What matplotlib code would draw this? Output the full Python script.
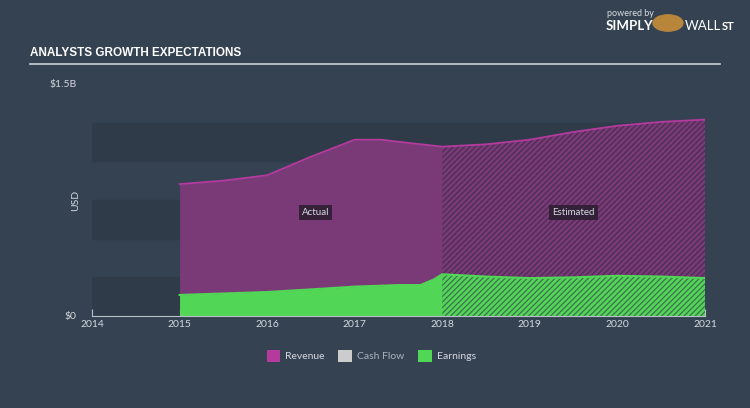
import matplotlib
matplotlib.use("Agg")
import matplotlib.pyplot as plt
from matplotlib.patches import Patch

# Revenue / earnings in $B
rev_act_x = [2015, 2015.5, 2016, 2016.5, 2017, 2017.3, 2017.6, 2018]
rev_act_y = [0.853, 0.875, 0.91, 1.03, 1.14, 1.14, 1.12, 1.095]
rev_est_x = [2018, 2018.5, 2019, 2019.5, 2020, 2020.5, 2021]
rev_est_y = [1.095, 1.11, 1.14, 1.19, 1.23, 1.255, 1.27]

earn_act_x = [2015, 2016, 2016.5, 2017, 2017.5, 2017.75, 2017.9, 2018]
earn_act_y = [0.136, 0.155, 0.172, 0.19, 0.2, 0.2, 0.235, 0.27]
earn_est_x = [2018, 2018.5, 2019, 2019.5, 2020, 2020.5, 2021]
earn_est_y = [0.27, 0.255, 0.245, 0.25, 0.26, 0.255, 0.245]

years = [2014, 2015, 2016, 2017, 2018, 2019, 2020, 2021]
bands = [(0, 0.25), (0.5, 0.75), (1.0, 1.25)]
legend_names = ["Revenue", "Cash Flow", "Earnings"]

BG = "#344252"
BAND = "#2f3b49"
REV_FILL = "#7a3a78"
REV_LINE = "#b43a9e"
EARN = "#52d656"
TXT = "#d4d9df"

plt.rcParams['font.family'] = ['Lato', 'DejaVu Sans']
plt.rcParams['hatch.linewidth'] = 0.9

fig = plt.figure(figsize=(7.5, 4.08), dpi=100, facecolor=BG)
ax = fig.add_axes([92/750, 92/408, 613/750, 232/408])
ax.set_facecolor(BG)
ax.set_xlim(2014, 2021)
ax.set_ylim(0, 1.5)

for lo, hi in bands:
    ax.axhspan(lo, hi, color=BAND, zorder=0)

# actual
ax.fill_between(rev_act_x, 0, rev_act_y, color=REV_FILL, lw=0, zorder=1)
ax.fill_between(earn_act_x, 0, earn_act_y, color=EARN, lw=0, zorder=2)
# estimated, hatched
ax.fill_between(rev_est_x, 0, rev_est_y, facecolor=REV_FILL, edgecolor="#4a2d52",
                hatch="//////", lw=0, zorder=1)
ax.fill_between(earn_est_x, 0, earn_est_y, facecolor=EARN, edgecolor="#3f7052",
                hatch="//////", lw=0, zorder=2)

ax.plot(rev_act_x + rev_est_x[1:], rev_act_y + rev_est_y[1:], color=REV_LINE, lw=1.3, zorder=3)
ax.plot(earn_act_x + earn_est_x[1:], earn_act_y + earn_est_y[1:], color=EARN, lw=1.5, zorder=3)

box = dict(boxstyle="square,pad=0.3", facecolor="#2b1d30", edgecolor="none", alpha=0.85)
ax.text(2016.55, 0.67, "Actual", color=TXT, fontsize=7, ha="center", va="center", bbox=box, zorder=5)
ax.text(2019.5, 0.67, "Estimated", color=TXT, fontsize=7, ha="center", va="center", bbox=box, zorder=5)

for s in ["top", "right", "left"]:
    ax.spines[s].set_visible(False)
ax.spines["bottom"].set_color("#b8c0c8")
ax.spines["bottom"].set_linewidth(0.8)
ax.set_xticks(years)
ax.set_xticklabels([str(y) for y in years])
ax.tick_params(axis="x", direction="in", length=5, color="#b8c0c8", labelcolor=TXT,
               labelsize=7.5, pad=3)
ax.set_yticks([0, 1.5])
ax.set_yticklabels(["$0", "$1.5B"])
ax.tick_params(axis="y", length=0, labelcolor=TXT, labelsize=7.5, pad=11)
ax.set_ylabel("USD", color=TXT, fontsize=7.5)
ax.yaxis.set_label_coords(-0.02, 0.5)

# header
fig.text(30/750, 1 - 53/408, "ANALYSTS GROWTH EXPECTATIONS", color="white", fontsize=8.5,
         fontweight="bold", family=['Liberation Sans Narrow', 'Liberation Sans', 'DejaVu Sans'],
         va="center")
fig.add_artist(plt.Line2D([30/750, 720/750], [1 - 64/408] * 2, color="#c9d0d8", lw=1.2))
fig.text(607/750, 1 - 14/408, "powered by", color="#d8dde2", fontsize=6.5, va="center")
fig.text(606/750, 1 - 26/408, "SIMPLY", color="white", fontsize=9.5, fontweight="bold", va="center")
fig.text(685/750, 1 - 26/408, "WALL", color="white", fontsize=9.5, va="center")
fig.text(722/750, 1 - 26/408, "ST", color="white", fontsize=8, fontweight="bold", va="center")
fig.add_artist(plt.Circle((668/750, 1 - 23/408), 0.02, transform=fig.transFigure,
                          color="#b8863a"))

handles = [Patch(facecolor=REV_LINE), Patch(facecolor="#cccccc"), Patch(facecolor=EARN)]
leg = fig.legend(handles, legend_names, loc="center", bbox_to_anchor=(0.495, 1 - 356/408),
                 ncol=3, frameon=False, fontsize=7.5, handlelength=1.3, handleheight=1.3,
                 columnspacing=1.3, handletextpad=0.5)
for t, c in zip(leg.get_texts(), [TXT, "#aab2bb", TXT]):
    t.set_color(c)

fig.savefig("out.png", dpi=100, facecolor=BG)
